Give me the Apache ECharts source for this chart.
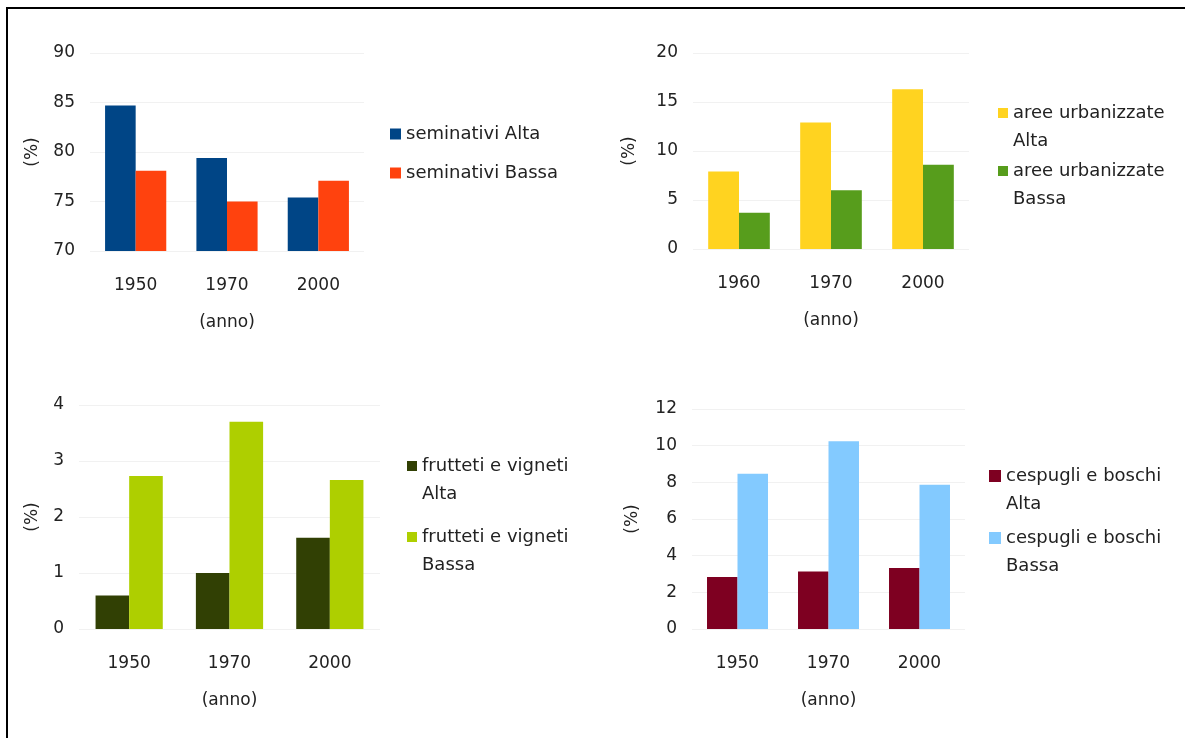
<!DOCTYPE html>
<html>
<head>
<meta charset="utf-8">
<script src="https://cdn.jsdelivr.net/npm/echarts@6/dist/echarts.min.js"></script>
<style>
  html, body { margin: 0; padding: 0; background: #ffffff; overflow: hidden; }
  #chart { width: 1185px; height: 738px; }
</style>
</head>
<body>
<div id="chart"></div>
<script>
// Categories (years)
const years = ['1950', '1970', '2000'];
const yearsUrban = ['1960', '1970', '2000'];

// Land use shares (%) for the "Alta" and "Bassa" zones
const seminativiAlta = [84.7, 79.4, 75.4];
const seminativiBassa = [78.1, 75.0, 77.1];
const urbanizzateAlta = [7.9, 12.9, 16.3];
const urbanizzateBassa = [3.7, 6.0, 8.6];
const fruttetiAlta = [0.6, 1.0, 1.63];
const fruttetiBassa = [2.73, 3.7, 2.66];
const cespugliAlta = [2.84, 3.14, 3.33];
const cespugliBassa = [8.47, 10.24, 7.87];

// Value axis ranges: [min, max, interval]
const rangeSeminativi = [70, 90, 5];
const rangeUrbanizzate = [0, 20, 5];
const rangeFrutteti = [0, 4, 1];
const rangeCespugli = [0, 12, 2];

const FONT = 'DejaVu Sans';
const TXT = '#222222';

const grids = [
  { left: 90, top: 53, width: 274, height: 198 },
  { left: 693, top: 53, width: 276, height: 196 },
  { left: 79, top: 405, width: 301, height: 224 },
  { left: 692, top: 409, width: 273, height: 220 }
];

function xAxisFor(idx, cats) {
  return {
    type: 'category', gridIndex: idx, data: cats,
    axisLine: { show: false }, axisTick: { show: false },
    axisLabel: { color: TXT, fontFamily: FONT, fontSize: 17, margin: 26 },
    name: '(anno)', nameLocation: 'middle', nameGap: 63,
    nameTextStyle: { color: TXT, fontFamily: FONT, fontSize: 17 }
  };
}

function yAxisFor(idx, range, nameGap) {
  return {
    type: 'value', gridIndex: idx, min: range[0], max: range[1], interval: range[2],
    axisLine: { show: false }, axisTick: { show: false },
    axisLabel: { color: TXT, fontFamily: FONT, fontSize: 17, margin: 15 },
    splitLine: { lineStyle: { color: '#f1f1f1', width: 1 } },
    name: '(%)', nameLocation: 'middle', nameRotate: 90, nameGap: nameGap,
    nameTextStyle: { color: TXT, fontFamily: FONT, fontSize: 17 }
  };
}

function barSeries(name, idx, data, color) {
  return {
    type: 'bar', name: name, xAxisIndex: idx, yAxisIndex: idx, data: data,
    barGap: '0%', barCategoryGap: '33%',
    itemStyle: { color: color }, emphasis: { disabled: true }
  };
}

// Two-line legend entries: a leading empty line keeps the swatch level with the first line
const wrapName = n => '\n' + n.replace(/ (Alta|Bassa)$/, '\n$1');

function legendFor(names, left, top, gap, wrapped, iconSize, textGap) {
  return {
    orient: 'vertical', left: left, top: top, padding: 0,
    itemWidth: iconSize, itemHeight: iconSize, itemGap: gap,
    textGap: textGap, icon: 'rect', selectedMode: false,
    data: names,
    formatter: wrapped ? wrapName : undefined,
    textStyle: { color: TXT, fontFamily: FONT, fontSize: 18, lineHeight: 28 }
  };
}

const option = {
  backgroundColor: '#ffffff',
  animation: false,
  // page frame: rule along the top and the left edge
  graphic: [
    { type: 'rect', silent: true, shape: { x: 6, y: 7, width: 1179, height: 2 }, style: { fill: '#000000' } },
    { type: 'rect', silent: true, shape: { x: 6, y: 7, width: 2, height: 731 }, style: { fill: '#000000' } }
  ],
  grid: grids,
  xAxis: [
    xAxisFor(0, years), xAxisFor(1, yearsUrban), xAxisFor(2, years), xAxisFor(3, years)
  ],
  yAxis: [
    yAxisFor(0, rangeSeminativi, 49),
    yAxisFor(1, rangeUrbanizzate, 55),
    yAxisFor(2, rangeFrutteti, 38),
    yAxisFor(3, rangeCespugli, 51)
  ],
  legend: [
    legendFor(['seminativi Alta', 'seminativi Bassa'], 390, 120, 11, false, 11, 6),
    legendFor(['aree urbanizzate Alta', 'aree urbanizzate Bassa'], 998, 71, -26, true, 10, 6),
    legendFor(['frutteti e vigneti Alta', 'frutteti e vigneti Bassa'], 407, 424, -13, true, 10, 6),
    legendFor(['cespugli e boschi Alta', 'cespugli e boschi Bassa'], 989, 434, -22, true, 12, 7)
  ],
  series: [
    barSeries('seminativi Alta', 0, seminativiAlta, '#004586'),
    barSeries('seminativi Bassa', 0, seminativiBassa, '#ff420e'),
    barSeries('aree urbanizzate Alta', 1, urbanizzateAlta, '#ffd320'),
    barSeries('aree urbanizzate Bassa', 1, urbanizzateBassa, '#579d1c'),
    barSeries('frutteti e vigneti Alta', 2, fruttetiAlta, '#314004'),
    barSeries('frutteti e vigneti Bassa', 2, fruttetiBassa, '#aecf00'),
    barSeries('cespugli e boschi Alta', 3, cespugliAlta, '#7e0021'),
    barSeries('cespugli e boschi Bassa', 3, cespugliBassa, '#83caff')
  ]
};

const chart = echarts.init(document.getElementById('chart'), null, { renderer: 'canvas' });
chart.setOption(option);
</script>
</body>
</html>
